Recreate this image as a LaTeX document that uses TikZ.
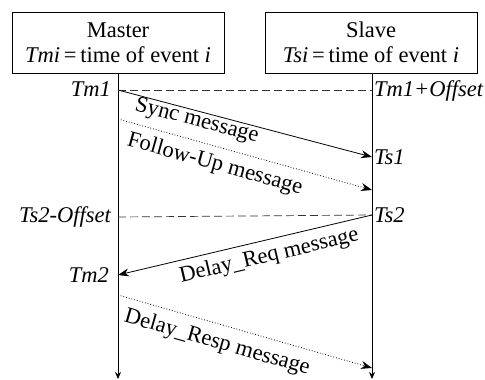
\documentclass[tikz,border=0pt]{standalone}
\usepackage{fontspec}
\setmainfont{Liberation Serif}
\usetikzlibrary{arrows.meta}
\begin{document}
\begin{tikzpicture}[x=1pt,y=-1pt,
  every node/.style={font=\fontsize{22.5}{26}\selectfont},
  hdr/.style={draw,line width=0.8pt,minimum width=212pt,minimum height=61pt,align=center,inner sep=0pt},
  lifeline/.style={line width=0.8pt,-{Stealth[length=7pt,width=6pt]}},
  msg/.style={line width=0.8pt,-{Stealth[length=11pt,width=8pt]}},
  dmsg/.style={msg,dotted},
  refl/.style={line width=0.7pt,dashed,dash pattern=on 8pt off 4pt,gray!40!black},
  tl/.style={inner sep=1pt,font=\fontsize{22.5}{26}\selectfont\itshape},
  ml/.style={sloped,inner sep=0pt}]
\useasboundingbox (0,0) rectangle (485,380);
\node[hdr] (master) at (118,42.5) {Master\\[-1pt]\textit{Tmi}\,=\,time of event \textit{i}};
\node[hdr] (slave) at (371,42.5) {Slave\\[-1pt]\textit{Tsi}\,=\,time of event \textit{i}};
\coordinate (mb) at (118,379);
\coordinate (sb) at (372,379);
\draw[lifeline] (master.south) -- (mb);
\draw[lifeline] (372,73) -- (sb);
% points
\coordinate (m1) at (118,90);
\coordinate (s1off) at (372,90);
\coordinate (s1) at (372,157);
\coordinate (mf) at (118,119);
\coordinate (sf) at (372,190);
\coordinate (s2) at (372,215);
\coordinate (m2off) at (118,217);
\coordinate (m2) at (118,275);
\coordinate (mr) at (118,295);
\coordinate (sr) at (372,368);
% time labels
\node[tl,anchor=east] (tm1) at (112,89) {Tm1};
\node[tl,anchor=west] (tm1o) at (373,91) {Tm1+Offset};
\node[tl,anchor=west] (ts1) at (373,157) {Ts1};
\node[tl,anchor=east] (ts2o) at (112,217) {Ts2-Offset};
\node[tl,anchor=west] (ts2) at (373,215) {Ts2};
\node[tl,anchor=east] (tm2) at (110,275) {Tm2};
% reference lines
\draw[refl] (m1) -- (s1off);
\draw[refl] (m2off) -- (s2);
% messages
\draw[msg] (m1) -- node[pos=0.32,ml,below=0pt] (syncl) {Sync message} (s1);
\draw[dmsg] (mf) -- node[pos=0.40,ml,below=7pt] (fupl) {Follow-Up message} (sf);
\draw[msg] (s2) -- node[pos=0.42,ml,below=6pt] (dreql) {Delay\_Req message} (m2);
\draw[dmsg] (mr) -- node[pos=0.41,ml,below=8pt] (drespl) {Delay\_Resp message} (sr);
\end{tikzpicture}
\end{document}
